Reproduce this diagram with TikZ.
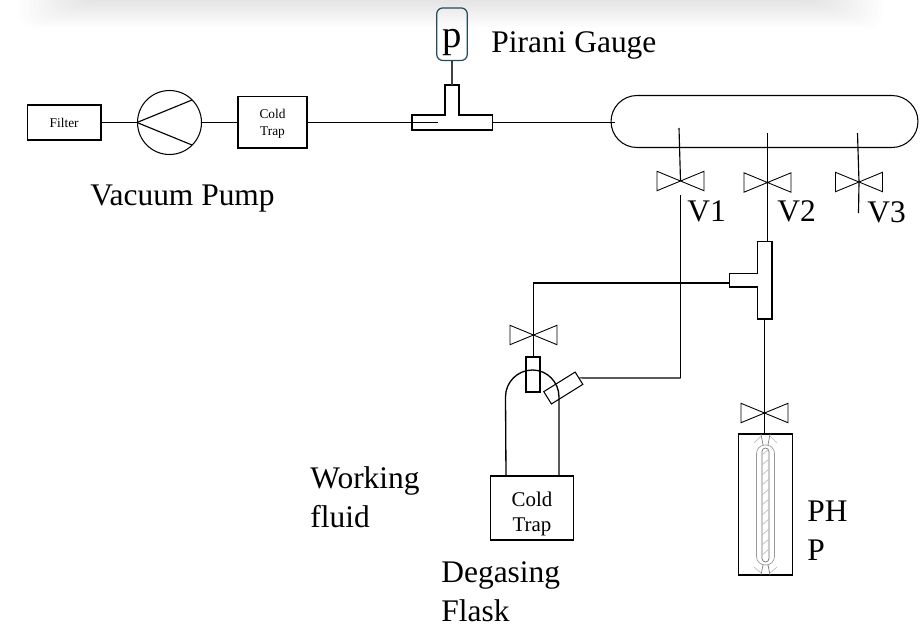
\documentclass[tikz,border=0pt]{standalone}
\usepackage{fontspec}
\setmainfont{Liberation Serif}
\usepackage{xcolor}
\usetikzlibrary{calc}

\definecolor{gaugeblue}{HTML}{1F4E5F}

\tikzset{
    lbl/.style={anchor=base west, inner sep=0, font=\fontsize{17.9}{22}\selectfont},
    smalltxt/.style={align=center, inner sep=0, font=\fontsize{7.6}{9.2}\selectfont},
    box/.style={draw, line width=0.7pt, inner sep=0},
    pipe/.style={line width=0.75pt},
    thin pipe/.style={line width=0.65pt}
}

\begin{document}
\begin{tikzpicture}[x=0.02cm, y=-0.02cm]
        \useasboundingbox (0,0) rectangle (923,626);
        \fill[white] (0,0) rectangle (923,626);

        \begin{scope}
            \clip (0,0) rectangle (923,626);
            \foreach \i in {1,...,14} {
                \fill[black, opacity=0.0095, rounded corners=0.3cm]
                    ($(14,-30)+(5*\i,0)$) rectangle ($(888,30)+(-5*\i,-2.1*\i)$);
            }
        \end{scope}

        % top line
        \node[box, minimum width=1.47cm, minimum height=0.7cm, smalltxt] (filter) at (64.2,122.5) {Filter};
        \node[draw, circle, line width=0.6pt, inner sep=0, minimum size=1.28cm] (pump) at (169.5,122.5) {};
        \node[box, minimum width=1.38cm, minimum height=1.03cm] (trap1) at (272.5,122.3) {};
        \node[smalltxt] (trap1txt) at ($(trap1)+(0,1.5)$) {Cold\\Trap};

        \coordinate (t1in) at (438,122.4);
        \coordinate (t1out) at (492.5,122.4);
        \coordinate (t1up) at (452,85);
        \coordinate (pipein) at (615,122.4);

        \draw[pipe] (filter.east |- pump.west) -- (pump.west);
        \draw[thin pipe] (pump.west) -- (192,100);
        \draw[thin pipe] (pump.west) -- (192,145);
        \draw[pipe] (pump.east) -- (trap1.west |- pump.east);
        \draw[pipe] (trap1.east |- t1in) -- (t1in);

        \draw[pipe] (412,115) -- (445,115) -- (445,85) -- (459,85) -- (459,115)
            -- (492.5,115) -- (492.5,130) -- (412,130) -- cycle;

        \node[draw=gaugeblue, rounded corners=0.12cm, line width=0.7pt, inner sep=0,
            minimum width=0.61cm, text height=22.8pt, text depth=7.1pt,
            font=\fontsize{22}{24}\selectfont] (gauge) at (452,34.2) {p};
        \draw[pipe, black!75] (gauge.south) -- (t1up);

        \node[draw, rounded corners=0.52cm, line width=0.6pt, inner sep=0,
            minimum width=6.14cm, minimum height=1.04cm] (tank) at (764.5,121.5) {};
        \draw[thin pipe] (t1out) -- (pipein);

        % valves
        \foreach \v/\x/\y in {v1/680.5/181, v2/767.5/182.5, v3/859/182, v4/533.5/335, v5/764.5/413} {
            \coordinate (\v) at (\x,\y);
            \draw[line width=0.5pt] ($(\v)+(-23.5,-9.7)$) -- ($(\v)+(23.5,9.7)$)
                -- ($(\v)+(23.5,-9.7)$) -- ($(\v)+(-23.5,9.7)$) -- cycle;
        }

        \draw[thin pipe] (679,128) -- (v1);
        \draw[thin pipe] (680.5,195) -- (680.5,378) coordinate (elbow);
        \draw[thin pipe] (767.5,133) -- (v2) -- (767.5,241.5);
        \draw[thin pipe] (857.5,133) -- (v3) -- (858.5,213);

        % tee below v2
        \draw[pipe] (757.5,241.5) -- (772,241.5) -- (772,319) -- (757.5,319) -- (757.5,287)
            -- (729.5,287) -- (729.5,273.5) -- (757.5,273.5) -- cycle;
        \draw[thin pipe] (729.5,283) -- (533.5,283) -- (v4);
        \draw[thin pipe] (v4) -- (533.5,357);
        \draw[thin pipe] (764.5,319) -- (v5) -- (764.5,434);

        % flask
        \node[box, minimum width=1.66cm, minimum height=1.28cm] (trap2) at (532,508) {};
        \node[inner sep=0, font=\fontsize{11.9}{14.5}\selectfont, align=center] (trap2txt)
            at ($(trap2)+(0,6)$) {Cold\\Trap};
        \draw[pipe] (506,476) -- (505.5,397) to[out=90,in=180] (532.5,370)
            to[out=0,in=90] (559,397) -- (559,476);
        \node[draw, line width=0.6pt, inner sep=0, minimum width=0.28cm, minimum height=0.7cm] (neck) at (533,374.5) {};
        \node[draw, line width=0.6pt, inner sep=0, minimum width=0.74cm, minimum height=0.29cm, rotate=32] (sidearm) at (563.3,388) {};
        \draw[thin pipe] (sidearm.east) -- (elbow);

        % php
        \node[box, minimum width=1.08cm, minimum height=2.82cm] (php) at (765.5,504.5) {};
        \begin{scope}[black!25, line width=0.4pt]
            \draw[black!40, rounded corners=0.17cm] (756.5,445) rectangle (774.5,565);
            \draw[black!55, rounded corners=0.07cm] (762,448) rectangle (769,562);
            \foreach \h in {455,465,...,555} {
                \draw (762,\h) -- (769,\h-6);
            }
            \draw[black!50] (761,434) -- (763,445) (770,434) -- (768,445);
            \draw[black!50] (761,575) -- (763,565) (770,575) -- (768,565);
            \draw (754,443) -- (761,436) (777,443) -- (770,436);
            \draw (754,567) -- (761,573) (777,567) -- (770,573);
        \end{scope}

        % labels
        \node[lbl] (vaclbl) at (90,205.5) {Vacuum Pump};
        \node[lbl] (pirlbl) at (491,52) {Pirani Gauge};
        \node[lbl] (v1lbl) at (687,221.5) {V1};
        \node[lbl] (v2lbl) at (777,221.5) {V2};
        \node[lbl] (v3lbl) at (867,222) {V3};
        \node[lbl, align=left] (wflbl) at (310,527.5) {Working\\fluid};
        \node[lbl, align=left] (dglbl) at (441,621) {Degasing\\Flask};
        \node[lbl, align=left] (phplbl) at (807,560) {PH\\P};
    \end{tikzpicture}
\end{document}
